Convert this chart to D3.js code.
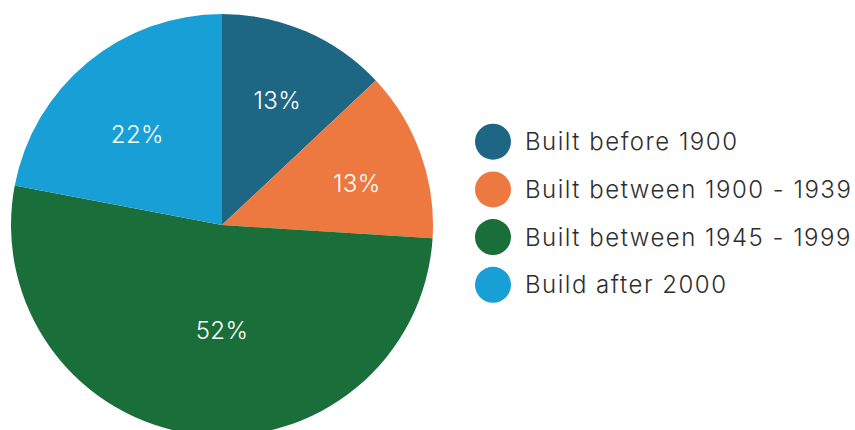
<!DOCTYPE html>
<html>
<head>
<meta charset="utf-8">
<script src="https://cdn.jsdelivr.net/npm/d3@7"></script>
<style>
  html, body { margin: 0; padding: 0; background: #fff; }
  svg { display: block; font-family: "Inter", "Open Sans", sans-serif; }
</style>
</head>
<body>
<svg id="chart" width="855" height="430"></svg>
<script>
// Housing stock by construction period
const categories = ["Built before 1900", "Built between 1900 - 1939", "Built between 1945 - 1999", "Build after 2000"];
const shares = [13, 13, 52, 22];
const colors = ["#1d6684", "#ee7940", "#196e3a", "#18a0d6"];

const svg = d3.select("#chart");
const cx = 222, cy = 225, radius = 211;

const pie = d3.pie().sort(null).value(d => d)(shares);
const arc = d3.arc().innerRadius(0).outerRadius(radius);

const g = svg.append("g").attr("transform", `translate(${cx},${cy})`);

g.selectAll("path.slice")
  .data(pie)
  .join("path")
  .attr("class", "slice")
  .attr("d", arc)
  .attr("fill", (d, i) => colors[i]);

// Percentage labels: distance from centre and a small angular nudge per slice
const labelRadius = [136, 141, 105, 124];
const labelNudgeDeg = [0.6, 2.8, -7.2, -3.4];
g.selectAll("text.pct")
  .data(pie)
  .join("text")
  .attr("class", "pct")
  .attr("transform", (d, i) => {
    const a = (d.startAngle + d.endAngle) / 2 + labelNudgeDeg[i] * Math.PI / 180;
    const r = labelRadius[i];
    return `translate(${r * Math.sin(a)},${-r * Math.cos(a)})`;
  })
  .attr("text-anchor", "middle")
  .attr("dy", "0.36em")
  .attr("fill", "#fff")
  .attr("font-size", 24)
  .attr("font-weight", 300)
  .attr("letter-spacing", 0.4)
  .text(d => d.data + "%");

// Legend
const legend = svg.append("g").attr("transform", "translate(493,141.7)");
const rowH = 47.7;
const items = legend.selectAll("g.item")
  .data(categories)
  .join("g")
  .attr("class", "item")
  .attr("transform", (d, i) => `translate(0,${i * rowH})`);

items.append("circle")
  .attr("r", 18)
  .attr("fill", (d, i) => colors[i]);

items.append("text")
  .attr("x", 32)
  .attr("y", 8.5)
  .attr("font-size", 24)
  .attr("font-weight", 350)
  .attr("letter-spacing", 1.5)
  .attr("fill", "#2e2e2e")
  .text(d => d);
</script>
</body>
</html>
